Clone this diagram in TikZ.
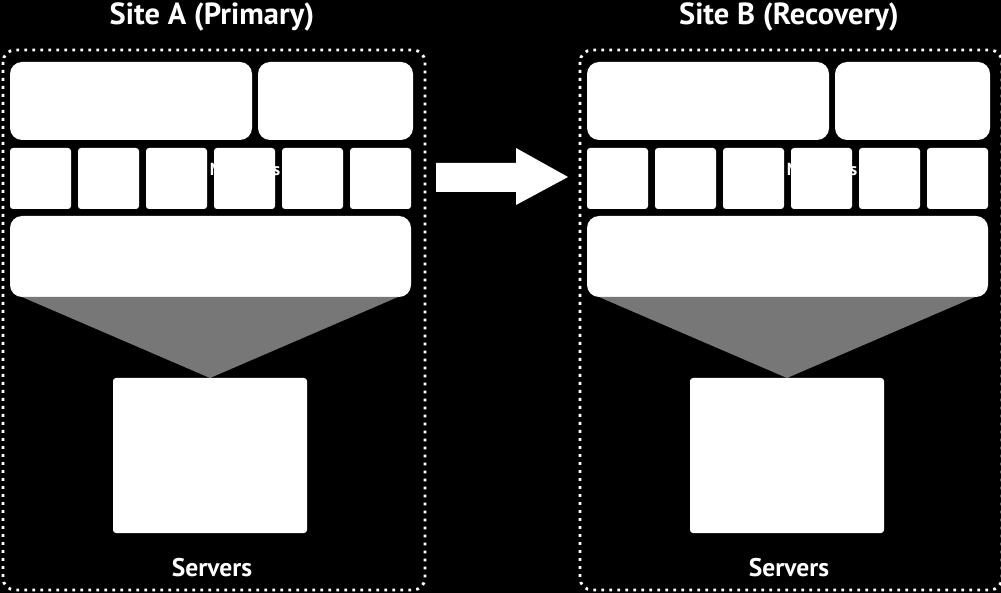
\documentclass[tikz,border=0pt]{standalone}
\usepackage{fontspec}
\setsansfont{PT Sans}
\definecolor{coregray}{HTML}{777777}
\begin{document}
\begin{tikzpicture}[x=1pt,y=-1pt,
  panel/.style={fill=white,rounded corners=12pt},
  vmbox/.style={fill=white,rounded corners=3pt},
  sitebox/.style={draw=white,line width=2.8pt,dash pattern=on 2.8pt off 5.2pt,rounded corners=12pt},
  sitetitle/.style={text=white,anchor=base,font=\sffamily\bfseries\fontsize{30.5}{32}\selectfont},
  sitelabel/.style={text=white,anchor=base,font=\sffamily\bfseries\fontsize{25.5}{27}\selectfont},
  vmlabel/.style={text=white,anchor=base,font=\sffamily\bfseries\fontsize{17.5}{19}\selectfont}]
\fill[black] (0,0) rectangle (1001,593);
\useasboundingbox (0,0) rectangle (1001,593);
% two sites, same layout
\foreach \dx/\name/\s in {0/{Site A (Primary)}/a,577/{Site B (Recovery)}/b}{
\begin{scope}[xshift=\dx]
\draw[sitebox] (3,50) rectangle (425,590);
\node[sitetitle] (title-\s) at (212,25) {\name};
\fill[panel] (10,62) rectangle (252,140);
\fill[panel] (258,62) rectangle (413,140);
\foreach \k in {0,...,5} \fill[vmbox] ({10+68*\k},148) rectangle +(61,61);
\node[vmlabel] (vm-\s) at (245,175.5) {Machines};
\fill[panel] (10,216) rectangle (411,297);
\fill[coregray] (22,297) -- (398,297) -- (210,378) -- cycle;
\fill[vmbox] (113,378) rectangle (307,533);
\node[sitelabel] (servers-\s) at (212,576) {Servers};
\end{scope}}
% replication arrow
\fill[white] (436,163) -- (516,163) -- (516,148) -- (568,177) -- (516,205) -- (516,192) -- (436,192) -- cycle;
\end{tikzpicture}
\end{document}
